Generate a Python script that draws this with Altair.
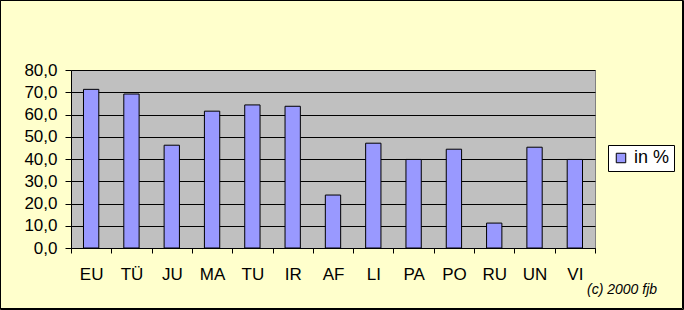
import altair as alt
import pandas as pd

categories = ["EU", "TÜ", "JU", "MA", "TU", "IR", "AF", "LI", "PA", "PO", "RU", "UN", "VI"]
values = [71.3, 69.2, 46.2, 61.5, 64.3, 63.7, 23.8, 47.1, 39.8, 44.4, 11.2, 45.3, 39.8]
series_name = "in %"
y_ticks = [0, 10, 20, 30, 40, 50, 60, 70, 80]
credit = "(c) 2000 fjb"

df = pd.DataFrame({"cat": categories, "val": values, "series": [series_name] * len(categories)})

L, T, W, H = 71, 70, 524, 178
FONT = "Liberation Sans"

bars = alt.Chart(df).mark_bar(
    width=alt.RelativeBandSize(0.38), stroke="black", strokeWidth=1
).encode(
    x=alt.X("cat:N", sort=categories, title=None,
            scale=alt.Scale(paddingInner=0, paddingOuter=0),
            axis=alt.Axis(tickBand="extent", labelAngle=0, labelFont=FONT, labelFontSize=17,
                          labelColor="black", tickColor="black", domainColor="black",
                          tickSize=5, labelPadding=13, domainWidth=1)),
    y=alt.Y("val:Q", title=None,
            scale=alt.Scale(domain=[0, 80], nice=False),
            axis=alt.Axis(values=y_ticks, labelExpr="replace(format(datum.value, '.1f'), '.', ',')",
                          labelFont=FONT, labelFontSize=17, labelColor="black",
                          tickColor="black", tickSize=6, labelPadding=8,
                          domainColor="black", grid=True, gridColor="black", gridOpacity=1)),
    color=alt.Color("series:N", title=None,
                    scale=alt.Scale(range=["#9999FF"]),
                    legend=alt.Legend(orient="none", legendX=537, legendY=75,
                                      symbolType="square", symbolSize=90,
                                      symbolStrokeColor="black", symbolStrokeWidth=1,
                                      labelFont=FONT, labelFontSize=18, labelColor="black",
                                      fillColor="white", strokeColor="black",
                                      padding=4, labelOffset=4)),
)

credit_text = alt.Chart(pd.DataFrame({"t": [credit]})).mark_text(
    font=FONT, fontSize=14, fontStyle="italic", align="left", baseline="middle", color="black"
).encode(x=alt.value(516), y=alt.value(220), text="t:N")

frame1 = alt.Chart(pd.DataFrame({"a": [0]})).mark_rect(
    fill=None, stroke="black", strokeWidth=1
).encode(x=alt.value(-L + 0.5), x2=alt.value(682.5 - L), y=alt.value(-T + 0.5), y2=alt.value(308.5 - T))
frame2 = alt.Chart(pd.DataFrame({"a": [0]})).mark_rect(
    fill=None, stroke="black", strokeWidth=1
).encode(x=alt.value(-L + 0.5), x2=alt.value(683.5 - L), y=alt.value(-T + 0.5), y2=alt.value(309.5 - T))

chart = alt.layer(bars, credit_text, frame1, frame2).properties(
    width=W, height=H,
    autosize=alt.AutoSizeParams(type="none"),
    padding={"left": L, "top": T, "right": 684 - L - W, "bottom": 310 - T - H},
    background="#FFFFCC",
).configure_view(fill="#C0C0C0", stroke="#808080", strokeWidth=1)

chart.save("out.html", embed_options={"renderer": "svg", "actions": False})
